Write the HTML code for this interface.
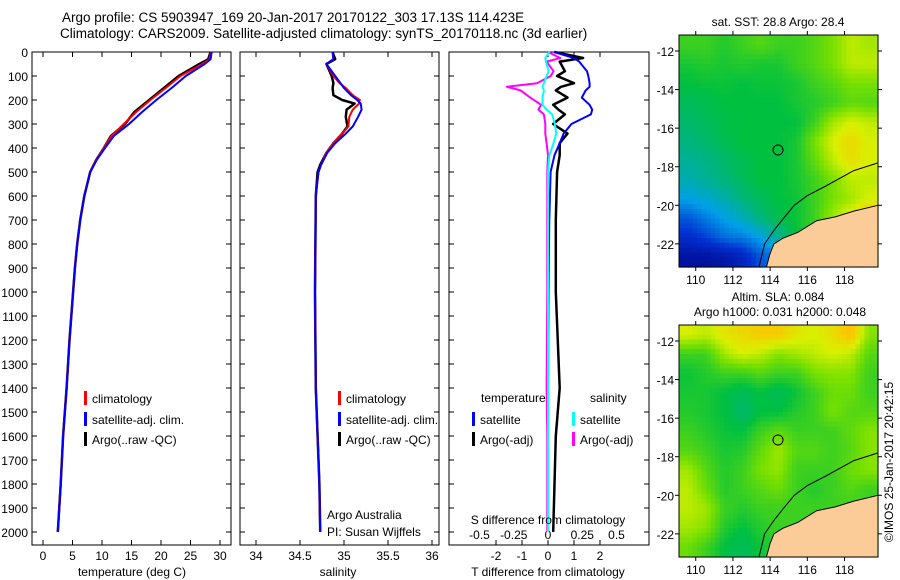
<!DOCTYPE html>
<html><head><meta charset="utf-8"><style>
body{margin:0;background:#fff;}
svg{display:block;font-family:"Liberation Sans",sans-serif;}
text{fill:#000;}
</style></head><body>
<svg id="fig" width="900" height="580" viewBox="0 0 900 580" xmlns="http://www.w3.org/2000/svg">
<text x="62" y="22" font-size="13.5">Argo profile: CS 5903947_169 20-Jan-2017 20170122_303 17.13S 114.423E</text>
<text x="60" y="38" font-size="13.5">Climatology: CARS2009. Satellite-adjusted climatology: synTS_20170118.nc (3d earlier)</text>
<text x="778" y="26" font-size="12" text-anchor="middle">sat. SST: 28.8 Argo: 28.4</text>
<text x="778" y="301" font-size="12" text-anchor="middle">Altim. SLA: 0.084</text>
<text x="780" y="316" font-size="12" text-anchor="middle">Argo h1000: 0.031 h2000: 0.048</text>
<text transform="translate(893,462) rotate(-90)" font-size="12" text-anchor="middle">©IMOS 25-Jan-2017 20:42:15</text>
<g id="plots"></g>
</svg>
<script>
// ---------- data ----------
const depthLevels = [0,30,50,100,150,200,250,300,350,400,450,500,600,700,800,900,1000,1200,1400,1600,1800,2000];
const tempArgo    = [28.4,28,26.5,23,20.5,18,15.5,13.9,11.5,10.3,9.0,8.0,7.0,6.3,5.8,5.4,5.1,4.5,4.0,3.4,3.0,2.5];
const tempClim    = [28.5,28.2,27,23.3,20.8,18.2,15.8,13.7,11.6,10.3,9.0,8.0,7.0,6.3,5.8,5.4,5.1,4.5,4.0,3.4,3.0,2.5];
const tempSat     = [28.6,28.4,27.4,24.2,21.8,19.2,16.8,14.6,12.0,10.5,9.1,8.0,7.0,6.3,5.8,5.4,5.1,4.5,4.0,3.4,3.0,2.5];

const salDepths = [0,30,50,100,130,150,180,200,215,240,270,310,340,380,420,470,500,600,1000,1400,1600,1800,2000];
const salArgo   = [34.87,34.9,34.8,34.86,34.88,34.87,34.88,34.98,35.12,35.03,35.02,35.04,34.98,34.88,34.8,34.73,34.7,34.68,34.67,34.68,34.7,34.72,34.73];
const salClim   = [34.87,34.88,34.8,34.88,34.95,35.02,35.1,35.18,35.17,35.1,35.06,35.05,34.98,34.88,34.8,34.74,34.71,34.68,34.67,34.68,34.7,34.72,34.73];
const salSat    = [34.87,34.88,34.8,34.9,34.96,35.0,35.08,35.15,35.19,35.2,35.16,35.1,35.02,34.9,34.81,34.74,34.71,34.68,34.67,34.68,34.7,34.72,34.73];

const difDepths = [0,25,40,80,100,130,145,160,190,220,240,260,300,340,380,430,500,700,1000,1400,1600,2000];
const tDiffSat  = [0.23,1.0,1.2,1.5,1.55,1.6,1.6,1.45,1.3,1.6,1.7,1.65,0.9,0.6,0.45,0.25,0.1,0.05,0.02,0.0,0.0,0.0];
const tDiffArgo = [0.25,1.35,0.45,0.65,0.35,1.0,0.5,0.3,0.75,0.2,0.4,0.65,0.2,0.75,0.45,0.45,0.35,0.3,0.3,0.45,0.3,0.2];
const sDiffSat  = [0.01,-0.02,-0.015,0.005,-0.01,-0.03,-0.04,-0.03,-0.04,-0.04,-0.01,0.03,0.05,0.06,0.04,0.01,0.0,0.0,0.0,0.0,0.0,0.0];
const sDiffArgo = [0.0,0.09,-0.01,0.04,0.02,-0.08,-0.3,-0.2,-0.13,-0.05,-0.07,-0.03,-0.02,-0.02,-0.01,0.0,-0.005,-0.005,-0.005,-0.01,-0.005,-0.005];

const depthTicks = [0,100,200,300,400,500,600,700,800,900,1000,1100,1200,1300,1400,1500,1600,1700,1800,1900,2000];
const tempTicks = [0,5,10,15,20,25,30];
const salTicks = [34,34.5,35,35.5,36];
const salTickLabels = ["34","34.5","35","35.5","36"];
const tDiffTicks = [-2,-1,0,1,2];
const sDiffTicks = [-0.5,-0.25,0,0.25,0.5];
const sDiffTickLabels = ["-0.5","-0.25","0","0.25","0.5"];

const lonTicks = [110,112,114,116,118];
const latTicks = [-12,-14,-16,-18,-20,-22];
// SST grid: rows from -11.2 to -23.2 (north->south), cols 109.1 -> 119.8 (normalised 0..1)
const sstGrid = [
 [.60,.60,.58,.60,.62,.60,.60,.62,.65,.70,.68],
 [.57,.58,.57,.58,.57,.57,.60,.62,.65,.70,.70],
 [.55,.56,.56,.55,.56,.56,.57,.60,.62,.65,.65],
 [.52,.53,.55,.55,.55,.55,.57,.58,.60,.63,.62],
 [.50,.52,.54,.55,.55,.55,.55,.60,.68,.72,.70],
 [.48,.50,.53,.55,.55,.55,.57,.65,.72,.76,.72],
 [.45,.47,.50,.53,.55,.55,.57,.63,.70,.75,.72],
 [.42,.45,.48,.52,.55,.55,.57,.60,.65,.70,.70],
 [.35,.38,.42,.48,.52,.55,.56,.60,.65,.68,.72],
 [.25,.30,.35,.40,.48,.53,.56,.60,.68,.75,.82],
 [.18,.22,.28,.30,.35,.45,.55,.60,.65,.70,.75],
 [.08,.08,.10,.15,.25,.30,.45,.55,.60,.65,.70]
];
const slaGrid = [
 [.72,.70,.74,.76,.78,.78,.74,.72,.75,.80,.66],
 [.60,.60,.68,.72,.70,.66,.68,.70,.72,.70,.62],
 [.56,.58,.60,.60,.62,.60,.60,.65,.66,.66,.60],
 [.57,.57,.55,.52,.55,.52,.56,.60,.64,.64,.60],
 [.58,.57,.55,.50,.55,.55,.58,.60,.65,.62,.62],
 [.60,.58,.56,.55,.60,.63,.60,.60,.60,.63,.66],
 [.62,.60,.57,.58,.63,.68,.62,.62,.60,.62,.66],
 [.68,.62,.58,.60,.65,.67,.60,.60,.60,.64,.66],
 [.70,.64,.58,.60,.62,.64,.60,.58,.60,.62,.60],
 [.70,.68,.60,.58,.60,.60,.60,.60,.60,.60,.60],
 [.68,.66,.58,.55,.58,.60,.60,.60,.60,.60,.60],
 [.64,.60,.55,.52,.56,.60,.60,.60,.60,.60,.60]
];
const coastLon = [119.8,118.5,117.5,116.5,115.5,114.7,114.2,114.0,113.8];
const coastLat = [-20.0,-20.3,-20.6,-20.8,-21.4,-21.7,-22.0,-22.5,-23.2];
const isoLon = [119.8,118.5,117,116,115.3,114.7,114.2,113.7,113.4];
const isoLat = [-17.8,-18.2,-19,-19.5,-20.0,-20.7,-21.3,-22,-23.2];
const argoLon = 114.423, argoLat = -17.13;

// ---------- helpers ----------
const NS="http://www.w3.org/2000/svg";
const root=document.getElementById('plots');
function mk(tag,attrs,parent){const e=document.createElementNS(NS,tag);for(const k in attrs)e.setAttribute(k,attrs[k]);(parent||root).appendChild(e);return e;}
function txt(x,y,s,anchor,size,parent){const t=mk('text',{x:x,y:y,'font-size':size||12,'text-anchor':anchor||'start'},parent);t.textContent=s;return t;}

const PT=52, PB=545;
const yD = d => PT + d*0.24;

function panel(name,x0,x1,xs,ticks,labels,yLabels){
  const g=mk('g',{});
  
  
  const r=mk('rect',{x:x0,y:PT,width:x1-x0,height:PB-PT,fill:'none',stroke:'#000','stroke-width':1},g);
  
  
  depthTicks.forEach(d=>{
    mk('line',{x1:x0,x2:x0+5,y1:yD(d),y2:yD(d),stroke:'#000'},g);
    mk('line',{x1:x1,x2:x1-5,y1:yD(d),y2:yD(d),stroke:'#000'},g);
  });
  ticks.forEach((v,i)=>{
    mk('line',{x1:xs(v),x2:xs(v),y1:PB,y2:PB-5,stroke:'#000'},g);
    mk('line',{x1:xs(v),x2:xs(v),y1:PT,y2:PT+5,stroke:'#000'},g);
    if(labels){const t=txt(xs(v),560,labels[i],'middle',12,g);
      
      }
  });
  if(yLabels){depthTicks.forEach(d=>{const t=txt(28,yD(d)+5,String(d),'end',12,g);
    
    });}
  return g;
}
function line(g,xs,vals,depths,color,w,name){
  const pts=vals.map((v,i)=>xs(v).toFixed(1)+','+yD(depths[i]).toFixed(1)).join(' ');
  const p=mk('polyline',{points:pts,fill:'none',stroke:color,'stroke-width':w,'stroke-linejoin':'round'},g);
  
  
}
function legend(g,x,y,color,label){
  mk('rect',{x:x,y:y-7,width:3,height:14,fill:color},g);
  const t=txt(x+8,y+5,label,'start',12,g);
  
  
}

// temperature panel
const xT = v => 43 + v*5.9;
const g1=panel('temperature-panel',32,231,xT,tempTicks,tempTicks.map(String),true);
line(g1,xT,tempArgo,depthLevels,'#000',2.5,'temp-argo-line');
line(g1,xT,tempClim,depthLevels,'#f00',2,'temp-climatology-line');
line(g1,xT,tempSat,depthLevels,'#00f',2,'temp-satellite-line');
legend(g1,84,398,'#f00','climatology');
legend(g1,84,419,'#00f','satellite-adj. clim.');
legend(g1,84,439,'#000','Argo(..raw -QC)');
let t=txt(132,576,'temperature (deg C)','middle',12,g1);



// salinity panel
const xS = v => 256 + (v-34)*88;
const g2=panel('salinity-panel',240,439,xS,salTicks,salTickLabels,false);
line(g2,xS,salArgo,salDepths,'#000',2.5,'sal-argo-line');
line(g2,xS,salClim,salDepths,'#f00',2,'sal-climatology-line');
line(g2,xS,salSat,salDepths,'#00f',2,'sal-satellite-line');
legend(g2,338,398,'#f00','climatology');
legend(g2,338,419,'#00f','satellite-adj. clim.');
legend(g2,338,439,'#000','Argo(..raw -QC)');
t=txt(327,519,'Argo Australia','start',12,g2);


t=txt(327,536,'PI: Susan Wijffels','start',12,g2);


t=txt(338,576,'salinity','middle',12,g2);



// difference panel
const xTd = v => 548 + v*26;
const xSd = v => 548 + v*137;
const g3=panel('difference-panel',449,649,xTd,tDiffTicks,tDiffTicks.map(String),false);
sDiffTicks.forEach((v,i)=>{const s=txt(xSd(v),539,sDiffTickLabels[i],'middle',12,g3);
  
  });
line(g3,xTd,tDiffArgo,difDepths,'#000',2.5,'t-diff-argo-line');
line(g3,xTd,tDiffSat,difDepths,'#00f',2,'t-diff-satellite-line');
line(g3,xSd,sDiffArgo,difDepths,'#f0f',2,'s-diff-argo-line');
line(g3,xSd,sDiffSat,difDepths,'#0ff',2,'s-diff-satellite-line');
t=txt(481,402,'temperature','start',12,g3);


t=txt(590,402,'salinity','start',12,g3);


legend(g3,472,419,'#00f','satellite');
legend(g3,472,439,'#000','Argo(-adj)');
legend(g3,572,419,'#0ff','satellite');
legend(g3,572,439,'#f0f','Argo(-adj)');
t=txt(548,524,'S difference from climatology','middle',12,g3);


t=txt(548,576,'T difference from climatology','middle',12,g3);



// ---------- maps ----------
const stops=[[0,[0,0,128]],[0.2,[0,48,208]],[0.35,[0,160,232]],[0.45,[0,176,150]],[0.55,[0,192,64]],[0.65,[120,224,0]],[0.72,[216,240,0]],[0.8,[255,192,0]],[0.9,[255,128,0]],[1,[200,0,0]]];
function cmap(v){
  for(let i=1;i<stops.length;i++){if(v<=stops[i][0]){const a=stops[i-1],b=stops[i];const f=(v-a[0])/(b[0]-a[0]);
    return 'rgb('+a[1].map((c,k)=>Math.round(c+(b[1][k]-c)*f)).join(',')+')';}}
  return 'rgb(200,0,0)';
}
function map(name,top,bottom,grid,sub){
  const L=679,R=878,lon0=109.1,lon1=119.8,lat0=-11.17,lat1=-23.2;
  const X=lon=>L+(lon-lon0)/(lon1-lon0)*(R-L);
  const Y=lat=>top+(lat0-lat)/(lat0-lat1)*(bottom-top);
  const g=mk('g',{});
  
  
  const rows=grid.length, cols=grid[0].length;
  const nr=rows*sub, nc=cols*sub;
  const cw=(R-L)/nc, ch=(bottom-top)/nr;
  for(let r=0;r<nr;r++)for(let c=0;c<nc;c++){
    let v;
    if(sub===1) v=grid[r][c];
    else{
      const fr=Math.min(rows-1,Math.max(0,(r+0.5)/sub-0.5)), fc=Math.min(cols-1,Math.max(0,(c+0.5)/sub-0.5));
      const r0=Math.floor(fr),c0=Math.floor(fc),r1=Math.min(rows-1,r0+1),c1=Math.min(cols-1,c0+1);
      const a=fr-r0,b=fc-c0;
      v=grid[r0][c0]*(1-a)*(1-b)+grid[r0][c1]*(1-a)*b+grid[r1][c0]*a*(1-b)+grid[r1][c1]*a*b;
    }
    const cell=mk('rect',{x:(L+c*cw).toFixed(2),y:(top+r*ch).toFixed(2),width:(cw+0.6).toFixed(2),height:(ch+0.6).toFixed(2),fill:cmap(v)},g);
    
    
  }
  const land=coastLon.map((lo,i)=>X(lo).toFixed(1)+','+Y(coastLat[i]).toFixed(1)).join(' ')+' '+R+','+bottom;
  const lp=mk('polygon',{points:land,fill:'#fbcc97',stroke:'#000','stroke-width':1},g);
  
  
  const iso=isoLon.map((lo,i)=>X(lo).toFixed(1)+','+Y(isoLat[i]).toFixed(1)).join(' ');
  const ip=mk('polyline',{points:iso,fill:'none',stroke:'#000','stroke-width':1},g);
  
  
  const m=mk('circle',{cx:X(argoLon),cy:Y(argoLat),r:5,fill:'none',stroke:'#000','stroke-width':1},g);
  
  
  const fr=mk('rect',{x:L,y:top,width:R-L,height:bottom-top,fill:'none',stroke:'#000'},g);
  
  
  lonTicks.forEach(lo=>{
    mk('line',{x1:X(lo),x2:X(lo),y1:top,y2:top-4,stroke:'#000'},g);
    mk('line',{x1:X(lo),x2:X(lo),y1:bottom,y2:bottom+4,stroke:'#000'},g);
    const s=txt(X(lo),bottom+17,String(lo),'middle',12,g);
    
    
  });
  latTicks.forEach(la=>{
    mk('line',{x1:L,x2:L-4,y1:Y(la),y2:Y(la),stroke:'#000'},g);
    mk('line',{x1:R,x2:R+4,y1:Y(la),y2:Y(la),stroke:'#000'},g);
    const s=txt(L-5,Y(la)+5,String(la),'end',12,g);
    
    
  });
}
map('sst-map',35,267,sstGrid,4);
map('sla-map',325,557,slaGrid,4);
</script>
</body></html>
